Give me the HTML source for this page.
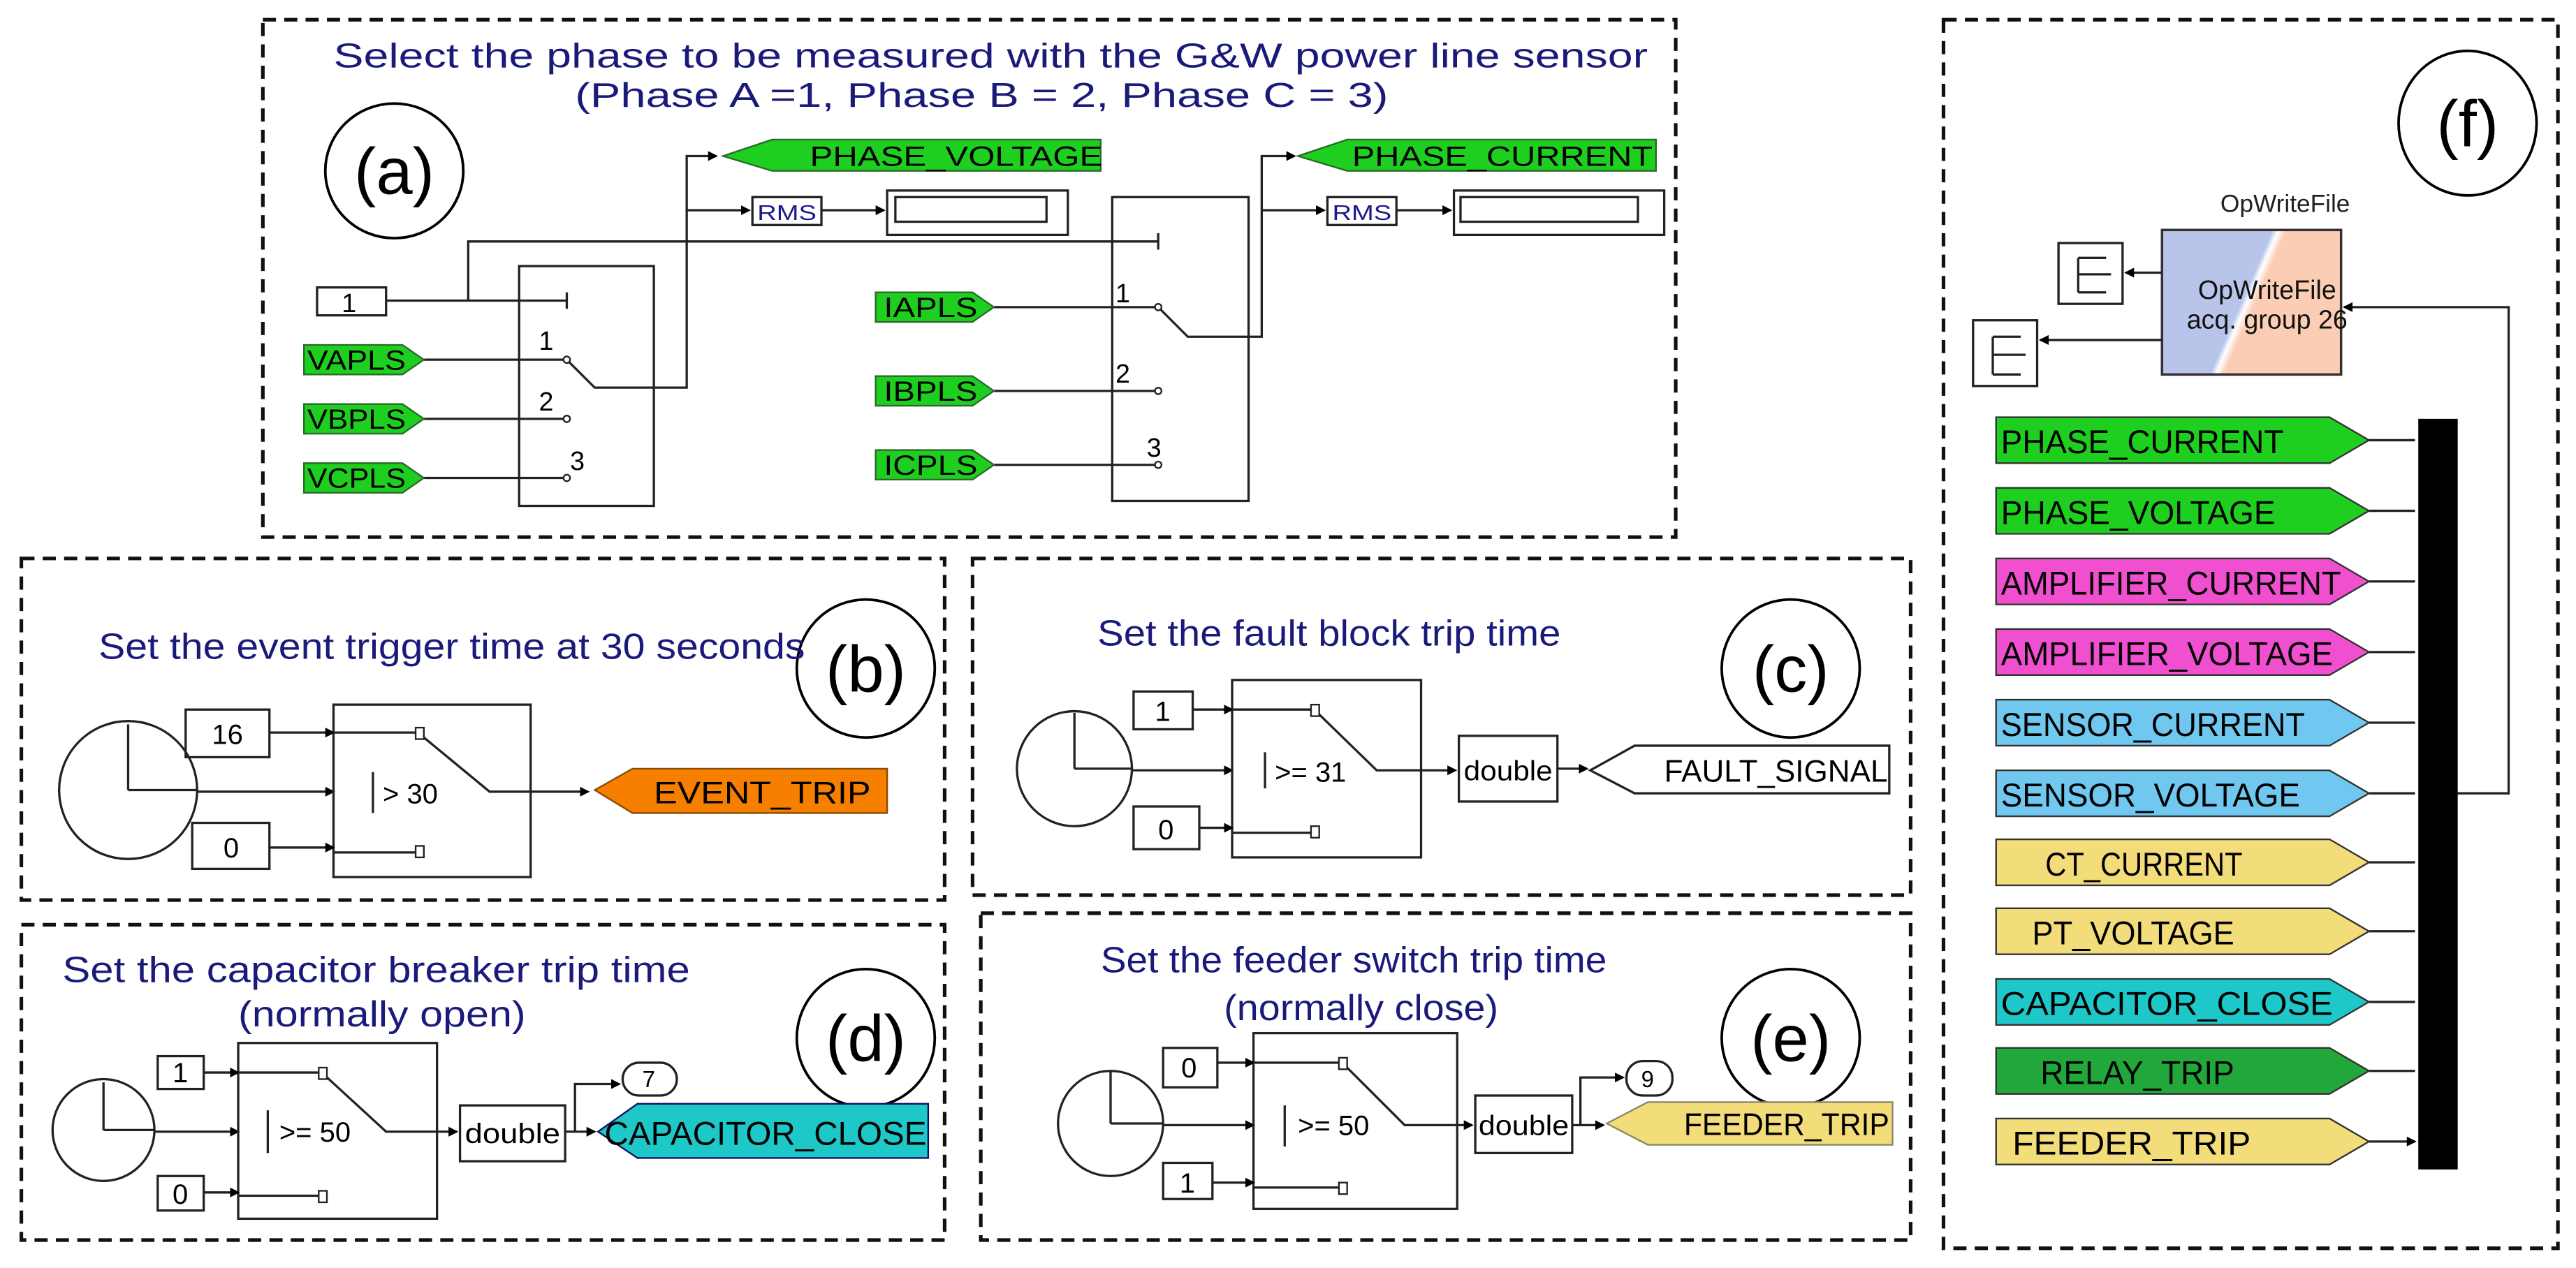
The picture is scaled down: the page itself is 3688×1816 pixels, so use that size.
<!DOCTYPE html>
<html><head><meta charset="utf-8"><style>
html,body{margin:0;padding:0;background:#fff;}
svg{display:block;}
text{font-family:"Liberation Sans",sans-serif;}
</style></head><body>
<svg width="3688" height="1816" viewBox="0 0 1568 772" preserveAspectRatio="none" xmlns="http://www.w3.org/2000/svg">
<defs>
<marker id="ar" markerWidth="6" markerHeight="6" refX="5" refY="3" orient="auto" markerUnits="userSpaceOnUse"><path d="M0,0 L6,3 L0,6 z" fill="#000"/></marker>
<linearGradient id="owf" x1="0" y1="0" x2="1" y2="0.35">
<stop offset="0.55" stop-color="#b8c4ea"/><stop offset="0.58" stop-color="#fff"/><stop offset="0.62" stop-color="#fbcdb5"/></linearGradient>
</defs>
<g fill="none" stroke="#111" stroke-width="2.2" stroke-dasharray="8,5">
<rect x="160" y="12" width="860" height="315"/>
<rect x="13" y="340" width="562" height="208"/>
<rect x="592" y="340" width="571" height="205"/>
<rect x="13" y="563" width="562" height="192"/>
<rect x="597" y="556" width="566" height="199"/>
<rect x="1183" y="12" width="374" height="748"/>
</g>
<g fill="none" stroke="#000" stroke-width="1.6">
<ellipse cx="240" cy="104" rx="42" ry="41"/>
<ellipse cx="527" cy="407" rx="42" ry="42"/>
<ellipse cx="1090" cy="407" rx="42" ry="42"/>
<ellipse cx="527" cy="632" rx="42" ry="42"/>
<ellipse cx="1090" cy="632" rx="42" ry="42"/>
<ellipse cx="1502" cy="75" rx="42" ry="44"/>
</g>
<g font-size="40" text-anchor="middle" fill="#000">
<text x="240" y="118">(a)</text><text x="527" y="421">(b)</text><text x="1090" y="421">(c)</text>
<text x="527" y="646">(d)</text><text x="1090" y="646">(e)</text><text x="1502" y="89">(f)</text>
</g>
<g fill="#1a1a7a" font-size="21" lengthAdjust="spacingAndGlyphs">
<text x="203" y="41" textLength="800" lengthAdjust="spacingAndGlyphs">Select the phase to be measured with the G&amp;W power line sensor</text>
<text x="350" y="65" textLength="495" lengthAdjust="spacingAndGlyphs">(Phase A =1, Phase B = 2, Phase C = 3)</text>
</g>
<g fill="#1a1a7a" font-size="22">
<text x="60" y="401" textLength="430" lengthAdjust="spacingAndGlyphs">Set the event trigger time at 30 seconds</text>
<text x="668" y="393" textLength="282" lengthAdjust="spacingAndGlyphs">Set the fault block trip time</text>
<text x="38" y="598" textLength="382" lengthAdjust="spacingAndGlyphs">Set the capacitor breaker trip time</text>
<text x="145" y="625" textLength="175" lengthAdjust="spacingAndGlyphs">(normally open)</text>
<text x="670" y="592" textLength="308" lengthAdjust="spacingAndGlyphs">Set the feeder switch trip time</text>
<text x="745" y="621" textLength="167" lengthAdjust="spacingAndGlyphs">(normally close)</text>
</g>

<!-- PANEL A -->
<g stroke="#222" stroke-width="1.4" fill="none">
<rect x="193" y="175" width="42" height="17" fill="#fff"/>
<rect x="316" y="162" width="82" height="146"/>
<rect x="677" y="120" width="83" height="185"/>
<path d="M235,183 H345 M345,178 V188" />
<path d="M285,183 V147 H705 M705,142 V152"/>
<path d="M258,219 H325"/><path d="M325,219 H345 L362,236 H418 V95 H436" marker-end="url(#ar)"/>
<path d="M418,128 H456" marker-end="url(#ar)"/>
<path d="M500,128 H538" marker-end="url(#ar)"/>
<path d="M258,255 H345"/><path d="M258,291 H345"/>
<path d="M605,187 H705 L723,205 H768 V95 H788" marker-end="url(#ar)"/>
<path d="M768,128 H806" marker-end="url(#ar)"/>
<path d="M850,128 H883" marker-end="url(#ar)"/>
<path d="M605,238 H705"/><path d="M605,283 H705"/>
<rect x="458" y="120" width="42" height="17" fill="#fff"/>
<rect x="540" y="116" width="110" height="27"/><rect x="545" y="120" width="92" height="15"/>
<rect x="808" y="120" width="42" height="17" fill="#fff"/>
<rect x="885" y="116" width="128" height="27"/><rect x="889" y="120" width="108" height="15"/>
</g>
<g fill="#fff" stroke="#222" stroke-width="1"><circle cx="345" cy="219" r="2"/><circle cx="345" cy="255" r="2"/><circle cx="345" cy="291" r="2"/>
<circle cx="705" cy="187" r="2"/><circle cx="705" cy="238" r="2"/><circle cx="705" cy="283" r="2"/></g>
<g font-size="16" fill="#000"><text x="208" y="190">1</text>
<text x="328" y="213">1</text><text x="328" y="250">2</text><text x="347" y="286">3</text>
<text x="679" y="184">1</text><text x="679" y="233">2</text><text x="698" y="278">3</text></g>
<g font-size="13" fill="#1a1a8a"><text x="461" y="134" textLength="36" lengthAdjust="spacingAndGlyphs">RMS</text><text x="811" y="134" textLength="36" lengthAdjust="spacingAndGlyphs">RMS</text></g>
<g stroke="#2a6a2a" stroke-width="1" fill="#1fcf1f">
<path d="M185,210 H245 L258,219 L245,228 H185 Z"/>
<path d="M185,246 H245 L258,255 L245,264 H185 Z"/>
<path d="M185,282 H245 L258,291 L245,300 H185 Z"/>
<path d="M533,178 H592 L605,187 L592,196 H533 Z"/>
<path d="M533,229 H592 L605,238 L592,247 H533 Z"/>
<path d="M533,274 H592 L605,283 L592,292 H533 Z"/>
<path d="M440,95 L470,85 H670 V104 H470 Z"/>
<path d="M790,95 L820,85 H1008 V104 H820 Z"/>
</g>
<g font-size="17" fill="#000">
<text x="187" y="225" textLength="60" lengthAdjust="spacingAndGlyphs">VAPLS</text><text x="187" y="261" textLength="60" lengthAdjust="spacingAndGlyphs">VBPLS</text><text x="187" y="297" textLength="60" lengthAdjust="spacingAndGlyphs">VCPLS</text>
<text x="538" y="193" textLength="57" lengthAdjust="spacingAndGlyphs">IAPLS</text><text x="538" y="244" textLength="57" lengthAdjust="spacingAndGlyphs">IBPLS</text><text x="538" y="289" textLength="57" lengthAdjust="spacingAndGlyphs">ICPLS</text>
<text x="493" y="101" textLength="178" lengthAdjust="spacingAndGlyphs">PHASE_VOLTAGE</text><text x="823" y="101" textLength="183" lengthAdjust="spacingAndGlyphs">PHASE_CURRENT</text>
</g>

<!-- PANEL B -->
<g stroke="#222" stroke-width="1.4" fill="none">
<circle cx="78" cy="481" r="42"/><path d="M78,481 V441 M78,481 H120"/>
<path d="M120,482 H203" marker-end="url(#ar)"/>
<rect x="113" y="432" width="51" height="29"/><rect x="117" y="501" width="47" height="28"/>
<rect x="203" y="429" width="120" height="105"/>
<path d="M164,446 H203" marker-end="url(#ar)"/><path d="M203,446 H253"/>
<path d="M164,516 H203" marker-end="url(#ar)"/><path d="M203,519 H253"/>
<path d="M227,470 V495"/>
<path d="M258,449 L298,482 H358" marker-end="url(#ar)"/>
</g>
<g fill="#fff" stroke="#222" stroke-width="1"><rect x="253" y="443" width="5" height="7"/><rect x="253" y="515" width="5" height="7"/></g>
<g font-size="17" fill="#000"><text x="129" y="453">16</text><text x="136" y="522">0</text><text x="233" y="489">&gt; 30</text></g>
<path d="M362,481 L385,468 H540 V495 H385 Z" fill="#f77f00" stroke="#8a4a00" stroke-width="1"/>
<text x="398" y="489" font-size="19" fill="#000" textLength="132" lengthAdjust="spacingAndGlyphs">EVENT_TRIP</text>

<!-- PANEL C -->
<g stroke="#222" stroke-width="1.4" fill="none">
<circle cx="654" cy="468" r="35"/><path d="M654,468 V434 M654,468 H689"/>
<path d="M689,469 H750" marker-end="url(#ar)"/>
<rect x="690" y="421" width="36" height="23"/><rect x="690" y="491" width="40" height="26"/>
<rect x="750" y="414" width="115" height="108"/>
<path d="M726,432 H750" marker-end="url(#ar)"/><path d="M750,432 H798"/>
<path d="M730,504 H750" marker-end="url(#ar)"/><path d="M750,507 H798"/>
<path d="M770,458 V480"/>
<path d="M802,434 L838,469 H886" marker-end="url(#ar)"/>
<rect x="888" y="448" width="60" height="40"/>
<path d="M948,468 H966" marker-end="url(#ar)"/>
<path d="M968,469 L995,454 H1150 V483 H995 Z" fill="#fff"/>
</g>
<g fill="#fff" stroke="#222" stroke-width="1"><rect x="798" y="429" width="5" height="7"/><rect x="798" y="503" width="5" height="7"/></g>
<g font-size="17" fill="#000"><text x="703" y="439">1</text><text x="705" y="511">0</text><text x="776" y="476">&gt;= 31</text>
<text x="891" y="475" textLength="54" lengthAdjust="spacingAndGlyphs">double</text><text x="1013" y="476" font-size="19" textLength="136" lengthAdjust="spacingAndGlyphs">FAULT_SIGNAL</text></g>

<!-- PANEL D -->
<g stroke="#222" stroke-width="1.4" fill="none">
<circle cx="63" cy="688" r="31"/><path d="M63,688 V659 M63,688 H94"/>
<path d="M94,689 H145" marker-end="url(#ar)"/>
<rect x="96" y="643" width="28" height="20"/><rect x="96" y="716" width="28" height="21"/>
<rect x="145" y="635" width="121" height="107"/>
<path d="M124,653 H145" marker-end="url(#ar)"/><path d="M145,653 H194"/>
<path d="M124,726 H145" marker-end="url(#ar)"/><path d="M145,728 H194"/>
<path d="M163,676 V702"/>
<path d="M198,655 L235,689 H278" marker-end="url(#ar)"/>
<rect x="280" y="673" width="64" height="34"/>
<path d="M344,689 H362" marker-end="url(#ar)"/>
<path d="M350,689 V660 H377" marker-end="url(#ar)"/>
<rect x="379" y="647" width="33" height="20" rx="10"/>
</g>
<g fill="#fff" stroke="#222" stroke-width="1"><rect x="194" y="650" width="5" height="7"/><rect x="194" y="725" width="5" height="7"/></g>
<path d="M364,689 L388,672 H565 V705 H388 Z" fill="#1fc8c8" stroke="#116" stroke-width="1"/>
<g font-size="17" fill="#000"><text x="105" y="659">1</text><text x="105" y="733">0</text><text x="170" y="695">&gt;= 50</text>
<text x="283" y="696" textLength="58" lengthAdjust="spacingAndGlyphs">double</text><text x="391" y="662" font-size="14">7</text><text x="368" y="697" font-size="20" textLength="196" lengthAdjust="spacingAndGlyphs">CAPACITOR_CLOSE</text></g>

<!-- PANEL E -->
<g stroke="#222" stroke-width="1.4" fill="none">
<circle cx="676" cy="684" r="32"/><path d="M676,684 V652 M676,684 H708"/>
<path d="M708,685 H763" marker-end="url(#ar)"/>
<rect x="708" y="638" width="33" height="24"/><rect x="708" y="708" width="30" height="22"/>
<rect x="763" y="629" width="124" height="107"/>
<path d="M741,647 H763" marker-end="url(#ar)"/><path d="M763,647 H815"/>
<path d="M738,720 H763" marker-end="url(#ar)"/><path d="M763,723 H815"/>
<path d="M782,673 V698"/>
<path d="M819,649 L855,685 H896" marker-end="url(#ar)"/>
<rect x="898" y="667" width="59" height="35"/>
<path d="M957,685 H976" marker-end="url(#ar)"/>
<path d="M962,685 V656 H988" marker-end="url(#ar)"/>
<rect x="990" y="646" width="28" height="21" rx="10"/>
</g>
<g fill="#fff" stroke="#222" stroke-width="1"><rect x="815" y="644" width="5" height="7"/><rect x="815" y="720" width="5" height="7"/></g>
<path d="M978,684 L1003,671 H1152 V697 H1003 Z" fill="#f3dc7a" stroke="#886" stroke-width="1"/>
<g font-size="17" fill="#000"><text x="719" y="656">0</text><text x="718" y="726">1</text><text x="790" y="691">&gt;= 50</text>
<text x="900" y="691" textLength="55" lengthAdjust="spacingAndGlyphs">double</text><text x="999" y="662" font-size="14">9</text><text x="1025" y="691" font-size="19" textLength="125" lengthAdjust="spacingAndGlyphs">FEEDER_TRIP</text></g>

<!-- PANEL F -->
<text x="1391" y="129" font-size="15" fill="#222" text-anchor="middle">OpWriteFile</text>
<rect x="1316" y="140" width="109" height="88" fill="url(#owf)" stroke="#333" stroke-width="1.5"/>
<text x="1380" y="182" font-size="16" fill="#111" text-anchor="middle">OpWriteFile</text>
<text x="1380" y="200" font-size="16" fill="#111" text-anchor="middle">acq. group 26</text>
<g stroke="#222" stroke-width="1.4" fill="none">
<rect x="1253" y="148" width="39" height="37" fill="#fff"/><path d="M1265,157 V178 M1265,157 H1282 M1265,167 H1285 M1265,178 H1282"/>
<rect x="1201" y="195" width="39" height="40" fill="#fff"/><path d="M1213,205 V228 M1213,205 H1230 M1213,216 H1233 M1213,228 H1230"/>
<path d="M1316,166 H1294" marker-end="url(#ar)"/>
<path d="M1316,207 H1242" marker-end="url(#ar)"/>
<path d="M1496,483 H1527 V187 H1427" marker-end="url(#ar)"/>
<path d="M1442,268 H1470 M1442,311 H1470 M1442,354 H1470 M1442,397 H1470 M1442,440 H1470 M1442,483 H1470 M1442,525 H1470 M1442,567 H1470 M1442,610 H1470 M1442,652 H1470 M1442,695 H1470" marker-end="url(#ar)"/>
</g>
<rect x="1472" y="255" width="24" height="457" fill="#000"/>
<g stroke="#333" stroke-width="1">
<path d="M1215,254 H1418 L1442,268 L1418,282 H1215 Z" fill="#1fcf1f"/>
<path d="M1215,297 H1418 L1442,311 L1418,325 H1215 Z" fill="#1fcf1f"/>
<path d="M1215,340 H1418 L1442,354 L1418,368 H1215 Z" fill="#f050d0"/>
<path d="M1215,383 H1418 L1442,397 L1418,411 H1215 Z" fill="#f050d0"/>
<path d="M1215,426 H1418 L1442,440 L1418,454 H1215 Z" fill="#70c8f0"/>
<path d="M1215,469 H1418 L1442,483 L1418,497 H1215 Z" fill="#70c8f0"/>
<path d="M1215,511 H1418 L1442,525 L1418,539 H1215 Z" fill="#f3dc7a"/>
<path d="M1215,553 H1418 L1442,567 L1418,581 H1215 Z" fill="#f3dc7a"/>
<path d="M1215,596 H1418 L1442,610 L1418,624 H1215 Z" fill="#1fc8c8"/>
<path d="M1215,638 H1418 L1442,652 L1418,666 H1215 Z" fill="#22a83a"/>
<path d="M1215,681 H1418 L1442,695 L1418,709 H1215 Z" fill="#f3dc7a"/>
</g>
<g font-size="20" fill="#000">
<text x="1218" y="276" textLength="172" lengthAdjust="spacingAndGlyphs">PHASE_CURRENT</text><text x="1218" y="319" textLength="167" lengthAdjust="spacingAndGlyphs">PHASE_VOLTAGE</text>
<text x="1218" y="362" textLength="207" lengthAdjust="spacingAndGlyphs">AMPLIFIER_CURRENT</text><text x="1218" y="405" textLength="202" lengthAdjust="spacingAndGlyphs">AMPLIFIER_VOLTAGE</text>
<text x="1218" y="448" textLength="185" lengthAdjust="spacingAndGlyphs">SENSOR_CURRENT</text><text x="1218" y="491" textLength="182" lengthAdjust="spacingAndGlyphs">SENSOR_VOLTAGE</text>
<text x="1245" y="533" textLength="120" lengthAdjust="spacingAndGlyphs">CT_CURRENT</text><text x="1237" y="575" textLength="123" lengthAdjust="spacingAndGlyphs">PT_VOLTAGE</text>
<text x="1218" y="618" textLength="202" lengthAdjust="spacingAndGlyphs">CAPACITOR_CLOSE</text><text x="1242" y="660" textLength="118" lengthAdjust="spacingAndGlyphs">RELAY_TRIP</text><text x="1225" y="703" textLength="145" lengthAdjust="spacingAndGlyphs">FEEDER_TRIP</text>
</g>
</svg>
</body></html>
